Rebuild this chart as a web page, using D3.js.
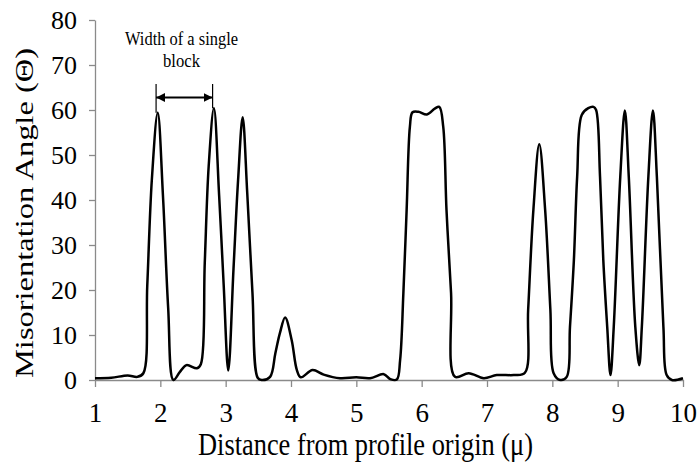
<!DOCTYPE html>
<html>
<head>
<meta charset="utf-8">
<script src="https://cdn.jsdelivr.net/npm/d3@7"></script>
<style>
  html, body { margin: 0; padding: 0; background: #fff; }
  svg { display: block; font-family: "Liberation Serif", "Times New Roman", serif; }
</style>
</head>
<body>
<svg id="chart" width="697" height="463"></svg>
<script>
// Misorientation profile along the scan line
const distance = [
  1.00, 1.25, 1.50, 1.65, 1.74, 1.80, 1.87, 1.96, 2.04, 2.12,
  2.20, 2.30, 2.40, 2.56, 2.62, 2.68, 2.74, 2.82, 2.90, 2.97,
  3.04, 3.12, 3.19, 3.26, 3.33, 3.41, 3.49, 3.55, 3.68, 3.76,
  3.83, 3.91, 4.01, 4.09, 4.15, 4.33, 4.50, 4.75, 5.00, 5.21,
  5.42, 5.52, 5.62, 5.67, 5.72, 5.77, 5.82, 5.86, 5.95, 6.08,
  6.20, 6.27, 6.33, 6.38, 6.45, 6.51, 6.72, 6.95, 7.15, 7.41,
  7.58, 7.63, 7.71, 7.80, 7.89, 7.97, 8.02, 8.12, 8.22, 8.27,
  8.33, 8.38, 8.45, 8.55, 8.63, 8.67, 8.73, 8.78, 8.84, 8.89,
  8.94, 9.04, 9.11, 9.17, 9.27, 9.33, 9.37, 9.47, 9.54, 9.60,
  9.70, 9.75, 9.83, 10.00
];
const angle = [
  0.4, 0.5, 1.0, 0.7, 1.5, 21.0, 44.5, 59.4, 41.0, 16.0,
  0.0, 1.8, 3.3, 2.6, 3.5, 26.0, 47.5, 60.4, 41.0, 21.0,
  2.1, 24.7, 44.4, 58.4, 41.6, 19.4, 0.5, 0.0, 0.7, 5.9,
  10.4, 13.9, 8.9, 2.2, 0.6, 2.2, 1.2, 0.4, 0.6, 0.4,
  1.3, 0.2, 0.1, 4.4, 19.3, 37.8, 56.3, 59.5, 59.6, 59.0,
  60.3, 60.7, 56.3, 37.8, 19.3, 0.7, 1.5, 0.4, 1.1, 1.1,
  1.6, 15.6, 37.8, 52.4, 37.8, 15.6, 1.5, 0.0, 0.7, 11.8,
  26.7, 45.2, 58.9, 60.4, 60.7, 60.0, 45.2, 26.7, 11.8, 1.1,
  11.8, 45.2, 59.9, 45.2, 11.8, 3.3, 11.8, 45.2, 59.9, 45.2,
  11.8, 1.1, 0.0, 0.4
];
const xTicks = [1, 2, 3, 4, 5, 6, 7, 8, 9, 10];
const yTicks = [0, 10, 20, 30, 40, 50, 60, 70, 80];

// Block-width marker between the first two peaks
const blockStart = 1.935;
const blockEnd = 2.80;
const blockTop = 65.8;
const blockPeaks = [59.4, 60.4];

const xLabel = "Distance from profile origin (\u03bc)";
const yLabel = "Misorientation Angle (\u0398)";
const noteLines = ["Width of a single", "block"];

const serif = "Liberation Serif, Times New Roman, serif";
const svg = d3.select("#chart");
const margin = { left: 95, right: 14, top: 20, bottom: 83 };
const W = 697, H = 463;

const x = d3.scaleLinear().domain([1, 10]).range([margin.left, W - margin.right]);
const y = d3.scaleLinear().domain([0, 80]).range([H - margin.bottom, margin.top]);

const axisColor = "#8a8a8a";

// Y axis
const gy = svg.append("g")
  .attr("transform", `translate(${margin.left},0)`)
  .call(d3.axisLeft(y).tickValues(yTicks).tickSize(6).tickSizeOuter(0).tickPadding(12))
  .attr("font-family", serif).attr("font-size", 26);
gy.selectAll("path, line").attr("stroke", axisColor).attr("stroke-width", 1.3);
gy.selectAll("text").attr("fill", "#000").attr("dy", "0.34em");

// X axis
const gx = svg.append("g")
  .attr("transform", `translate(0,${y(0)})`)
  .call(d3.axisBottom(x).tickValues(xTicks).tickSize(7).tickSizeOuter(0).tickPadding(16))
  .attr("font-family", serif).attr("font-size", 27);
gx.selectAll("path, line").attr("stroke", axisColor).attr("stroke-width", 1.3);
gx.selectAll("text").attr("fill", "#000");

// Profile line
const pts = distance.map((d, i) => [d, angle[i]]);
const line = d3.line()
  .x(d => x(d[0]))
  .y(d => y(d[1]))
  .curve(d3.curveCatmullRom.alpha(0.5));
svg.append("path")
  .datum(pts)
  .attr("fill", "none")
  .attr("stroke", "#000")
  .attr("stroke-width", 2.5)
  .attr("stroke-linejoin", "round")
  .attr("d", line);

// Axis titles
svg.append("text")
  .attr("x", 198).attr("y", 455)
  .attr("font-size", 32)
  .attr("textLength", 335).attr("lengthAdjust", "spacingAndGlyphs")
  .text(xLabel);

svg.append("text")
  .attr("transform", "translate(33,378) rotate(-90)")
  .attr("font-size", 25)
  .attr("textLength", 330).attr("lengthAdjust", "spacingAndGlyphs")
  .text(yLabel);

// Annotation
const defs = svg.append("defs");
defs.append("marker")
  .attr("id", "arrowhead")
  .attr("viewBox", "0 0 10 10")
  .attr("refX", 10).attr("refY", 5)
  .attr("markerWidth", 9).attr("markerHeight", 10)
  .attr("markerUnits", "userSpaceOnUse")
  .attr("orient", "auto-start-reverse")
  .append("path").attr("d", "M0,0 L10,5 L0,10 Z").attr("fill", "#000");

const arrowY = 97.5;
[blockStart, blockEnd].forEach((bx, i) => {
  svg.append("line")
    .attr("x1", x(bx)).attr("x2", x(bx))
    .attr("y1", y(blockTop)).attr("y2", y(blockPeaks[i]))
    .attr("stroke", "#000").attr("stroke-width", 1.2);
});
svg.append("line")
  .attr("x1", x(blockStart)).attr("x2", x(blockEnd))
  .attr("y1", arrowY).attr("y2", arrowY)
  .attr("stroke", "#000").attr("stroke-width", 2)
  .attr("marker-start", "url(#arrowhead)")
  .attr("marker-end", "url(#arrowhead)");

svg.append("text")
  .attr("x", 125).attr("y", 45)
  .attr("font-size", 19.5)
  .attr("textLength", 113).attr("lengthAdjust", "spacingAndGlyphs")
  .text(noteLines[0]);
svg.append("text")
  .attr("x", 163).attr("y", 66.5)
  .attr("font-size", 19.5)
  .attr("textLength", 37).attr("lengthAdjust", "spacingAndGlyphs")
  .text(noteLines[1]);
</script>
</body>
</html>
